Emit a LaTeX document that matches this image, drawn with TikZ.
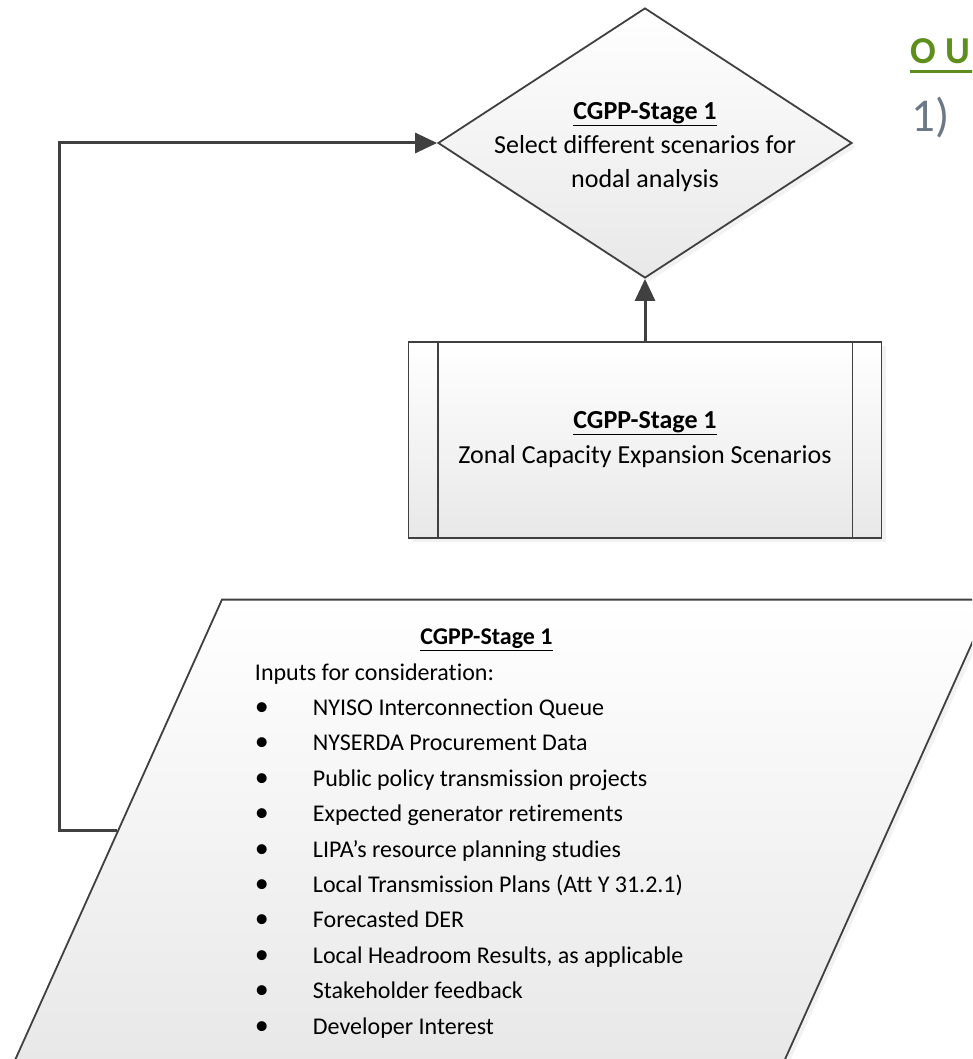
\documentclass[tikz,border=0pt]{standalone}
\usepackage{fontspec}
\setmainfont{Carlito}[Ligatures=NoCommon]
\usetikzlibrary{arrows.meta,positioning,shapes.geometric,shadows}

\definecolor{linegray}{RGB}{64,64,64}
\definecolor{headgreen}{RGB}{94,142,28}
\definecolor{numgray}{RGB}{108,120,134}

\newcommand{\stagetitle}{\underline{\textbf{CGPP-Stage 1}}}
\newcommand{\inputitem}[1]{\makebox[58pt][l]{\fontsize{28}{28}\selectfont\textbullet}#1}

\tikzset{
  flow/.style={draw=linegray, line width=1.8pt, top color=white, bottom color=black!9,
    drop shadow={shadow xshift=4pt, shadow yshift=-4pt, fill=black!10}},
  link/.style={draw=linegray, line width=3pt},
}

\begin{document}
\begin{tikzpicture}[>={Triangle[length=22pt,width=20pt]},node distance=62pt]
	\path[use as bounding box] (0,0) rectangle (972pt,-1059pt);
	\clip (0,0) rectangle (972pt,-1059pt);

	\node[flow, diamond, minimum width=414pt, minimum height=270pt, inner sep=0pt,
		label={[font=\fontsize{26}{34}\selectfont, align=center, yshift=-4pt]center:{\stagetitle\\Select different scenarios for\\nodal analysis}}]
		(select) at (645pt,-143pt) {};
	\node[flow, rectangle, minimum width=473pt, minimum height=196pt, align=center,
		font=\fontsize{26}{35}\selectfont] (zonal) [below=of select]
		{\stagetitle\\Zonal Capacity Expansion Scenarios};
	\node[flow, trapezium, trapezium left angle=65.8, trapezium right angle=114.2,
		text width=496pt, inner xsep=33pt, inner ysep=0pt, text height=45pt, text depth=417pt,
		font=\fontsize{24}{35.4}\selectfont, align=flush left] (inputs) [below=60pt of zonal, xshift=-142pt]
		{\makebox[463pt]{\stagetitle}\\
		Inputs for consideration:\\
		\inputitem{NYISO Interconnection Queue}\\
		\inputitem{NYSERDA Procurement Data}\\
		\inputitem{Public policy transmission projects}\\
		\inputitem{Expected generator retirements}\\
		\inputitem{LIPA’s resource planning studies}\\
		\inputitem{Local Transmission Plans (Att Y 31.2.1)}\\
		\inputitem{Forecasted DER}\\
		\inputitem{Local Headroom Results, as applicable}\\
		\inputitem{Stakeholder feedback}\\
		\inputitem{Developer Interest}};

	% side lines of the process box
	\draw[draw=linegray, line width=1.8pt]
		([xshift=30pt]zonal.north west) -- ([xshift=30pt]zonal.south west)
		([xshift=-30pt]zonal.north east) -- ([xshift=-30pt]zonal.south east);

	\draw[link, ->] (zonal) -- (select);
	\draw[link, ->] (inputs.west) -- ++(-58pt,0) |- (select.west);

	% cut-off text at the right edge
	\node[font=\fontsize{38}{42}\selectfont\bfseries, text=headgreen, anchor=base west, inner sep=0pt]
		(heading) at (910pt,-64pt) {\rlap{\rule[-9pt]{80pt}{2.6pt}}O\hspace{10pt}U};
	\node[font=\fontsize{47}{52}\selectfont, text=numgray, anchor=base west, inner sep=0pt]
		(step1) at (911pt,-132pt) {1)};
\end{tikzpicture}
\end{document}
